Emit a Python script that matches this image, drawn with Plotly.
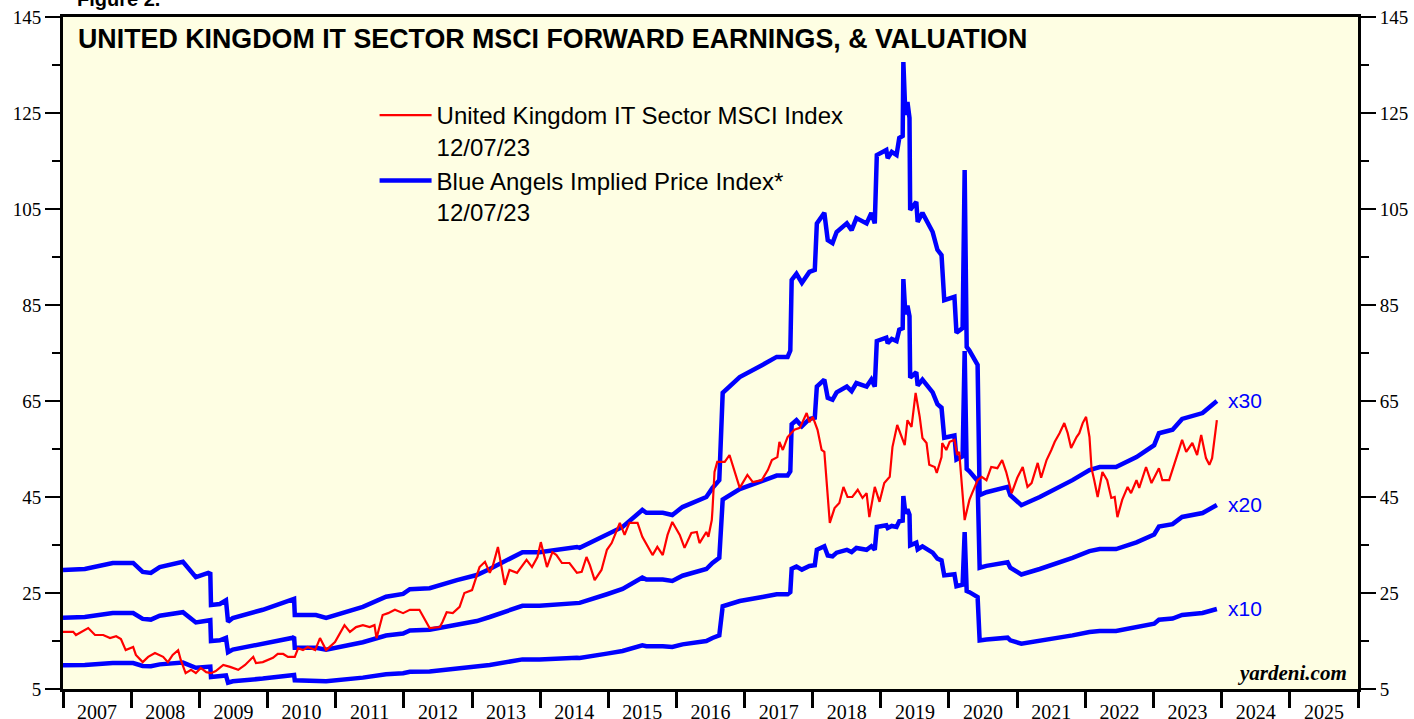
import pandas as pd
import plotly.graph_objects as go

# ---- Data (decimal years) ----
eps_years = [2007.00, 2007.32, 2007.73, 2008.03, 2008.17, 2008.29, 2008.42, 2008.57, 2008.76, 2008.95,
             2009.13, 2009.16, 2009.17, 2009.30, 2009.39, 2009.42, 2009.49, 2009.93, 2010.37, 2010.39,
             2010.40, 2010.71, 2010.86, 2011.40, 2011.74, 2011.99, 2012.09, 2012.38, 2012.78, 2013.07,
             2013.26, 2013.74, 2013.99, 2014.54, 2014.58, 2014.98, 2015.21, 2015.50, 2015.56, 2015.80,
             2015.94, 2016.09, 2016.44, 2016.53, 2016.63, 2016.68, 2016.93, 2017.26, 2017.47, 2017.63,
             2017.67, 2017.69, 2017.76, 2017.84, 2017.95, 2018.03, 2018.06, 2018.17, 2018.22, 2018.29,
             2018.35, 2018.50, 2018.57, 2018.64, 2018.79, 2018.86, 2018.91, 2018.94, 2019.08, 2019.10,
             2019.16, 2019.23, 2019.27, 2019.32, 2019.33, 2019.36, 2019.39, 2019.42, 2019.43, 2019.52,
             2019.54, 2019.61, 2019.71, 2019.76, 2019.83, 2019.89, 2019.93, 2020.08, 2020.11, 2020.20,
             2020.23, 2020.26, 2020.30, 2020.39, 2020.42, 2020.45, 2020.55, 2020.86, 2020.90, 2021.06,
             2021.33, 2021.81, 2022.06, 2022.21, 2022.45, 2022.75, 2023.01, 2023.08, 2023.28, 2023.42,
             2023.72, 2023.93]
# forward earnings (index units)
fwd_earnings = [0.993, 1.000, 1.042, 1.042, 0.980, 0.973, 1.013, 1.027, 1.050, 0.943,
                0.973, 0.967, 0.750, 0.757, 0.783, 0.633, 0.660, 0.717, 0.783, 0.793,
                0.680, 0.680, 0.660, 0.737, 0.807, 0.827, 0.860, 0.867, 0.923, 0.958,
                1.000, 1.117, 1.117, 1.153, 1.147, 1.237, 1.292, 1.410, 1.390, 1.390,
                1.375, 1.430, 1.500, 1.563, 1.617, 2.223, 2.333, 2.417, 2.473, 2.473,
                2.517, 3.007, 3.050, 2.987, 3.063, 3.077, 3.400, 3.473, 3.283, 3.263,
                3.340, 3.400, 3.353, 3.437, 3.400, 3.473, 3.400, 3.875, 3.910, 3.853,
                3.897, 3.875, 3.993, 4.007, 4.520, 4.153, 4.243, 4.133, 3.493, 3.550,
                3.410, 3.473, 3.375, 3.340, 3.217, 3.180, 2.867, 2.890, 2.640, 2.673,
                3.770, 2.542, 2.517, 2.450, 2.417, 1.513, 1.533, 1.570, 1.513, 1.443,
                1.500, 1.617, 1.687, 1.708, 1.708, 1.777, 1.860, 1.943, 1.967, 2.042,
                2.083, 2.167]
multiples = [30, 20, 10]

idx_years = [2007.00, 2007.15, 2007.19, 2007.37, 2007.47, 2007.59, 2007.69, 2007.78, 2007.85, 2007.92,
             2008.03, 2008.07, 2008.17, 2008.25, 2008.35, 2008.47, 2008.54, 2008.61, 2008.69, 2008.73,
             2008.80, 2008.88, 2008.95, 2009.02, 2009.10, 2009.17, 2009.24, 2009.35, 2009.45, 2009.57,
             2009.67, 2009.79, 2009.83, 2009.93, 2010.08, 2010.15, 2010.23, 2010.30, 2010.40, 2010.45,
             2010.52, 2010.59, 2010.70, 2010.77, 2010.86, 2010.99, 2011.13, 2011.21, 2011.30, 2011.40,
             2011.50, 2011.57, 2011.60, 2011.69, 2011.77, 2011.87, 2011.99, 2012.09, 2012.23, 2012.34,
             2012.38, 2012.53, 2012.57, 2012.63, 2012.72, 2012.82, 2012.89, 2013.00, 2013.11, 2013.19,
             2013.26, 2013.30, 2013.38, 2013.48, 2013.55, 2013.66, 2013.80, 2013.88, 2013.96, 2014.01,
             2014.10, 2014.18, 2014.24, 2014.32, 2014.43, 2014.54, 2014.61, 2014.68, 2014.73, 2014.80,
             2014.90, 2014.98, 2015.05, 2015.17, 2015.24, 2015.31, 2015.43, 2015.50, 2015.65, 2015.72,
             2015.80, 2015.87, 2015.94, 2016.05, 2016.12, 2016.22, 2016.30, 2016.34, 2016.44, 2016.47,
             2016.52, 2016.53, 2016.56, 2016.60, 2016.71, 2016.78, 2016.88, 2016.93, 2017.04, 2017.12,
             2017.25, 2017.34, 2017.40, 2017.48, 2017.51, 2017.56, 2017.63, 2017.73, 2017.81, 2017.85,
             2017.91, 2017.95, 2018.00, 2018.07, 2018.13, 2018.17, 2018.25, 2018.32, 2018.39, 2018.45,
             2018.51, 2018.58, 2018.66, 2018.73, 2018.79, 2018.83, 2018.91, 2018.98, 2019.05, 2019.13,
             2019.17, 2019.24, 2019.30, 2019.35, 2019.39, 2019.45, 2019.51, 2019.57, 2019.61, 2019.67,
             2019.71, 2019.79, 2019.82, 2019.89, 2019.90, 2019.96, 2020.01, 2020.08, 2020.12, 2020.15,
             2020.23, 2020.27, 2020.30, 2020.34, 2020.42, 2020.48, 2020.55, 2020.62, 2020.71, 2020.78,
             2020.84, 2020.92, 2021.00, 2021.08, 2021.15, 2021.21, 2021.30, 2021.35, 2021.43, 2021.50,
             2021.55, 2021.62, 2021.69, 2021.74, 2021.79, 2021.87, 2021.91, 2021.96, 2022.01, 2022.06,
             2022.09, 2022.13, 2022.18, 2022.25, 2022.32, 2022.38, 2022.43, 2022.47, 2022.54, 2022.62,
             2022.67, 2022.75, 2022.79, 2022.89, 2022.97, 2023.08, 2023.13, 2023.23, 2023.33, 2023.42,
             2023.48, 2023.57, 2023.64, 2023.70, 2023.77, 2023.82, 2023.86, 2023.93]
idx_values = [16.9, 16.9, 16.25, 17.7, 16.25, 16.25, 15.6, 16.0, 15.4, 13.1,
              13.75, 12.1, 10.6, 11.7, 12.5, 11.7, 10.6, 12.1, 13.1, 11.0,
              8.3, 9.0, 8.3, 9.4, 8.5, 8.3, 8.75, 10.0, 9.6, 9.0,
              10.0, 11.7, 10.4, 10.6, 11.5, 12.3, 12.3, 11.7, 11.7, 13.5,
              13.1, 13.75, 13.1, 15.6, 13.1, 14.8, 18.3, 16.9, 17.9, 18.3,
              17.9, 18.3, 15.6, 20.4, 20.8, 21.5, 20.8, 21.5, 21.5, 18.75,
              17.7, 17.9, 19.0, 21.0, 20.8, 22.1, 25.0, 25.6, 30.4, 31.5,
              29.2, 30.4, 34.6, 26.7, 29.8, 29.2, 31.9, 30.4, 32.5, 35.6,
              30.4, 33.5, 32.9, 31.25, 31.25, 29.2, 29.4, 32.5, 30.8, 27.7,
              29.8, 34.0, 35.4, 39.6, 37.1, 39.6, 39.6, 36.7, 32.9, 34.6,
              32.9, 37.1, 39.8, 37.1, 34.4, 37.5, 37.7, 35.4, 37.7, 36.7,
              40.2, 42.3, 50.2, 52.3, 52.3, 53.75, 49.2, 46.9, 49.6, 48.1,
              48.5, 50.6, 52.7, 53.3, 56.5, 54.8, 57.5, 59.0, 59.4, 60.6,
              62.5, 60.6, 61.7, 59.0, 54.8, 54.4, 39.6, 42.7, 43.75, 47.1,
              45.0, 45.0, 46.5, 44.8, 45.8, 40.8, 47.1, 44.0, 47.9, 49.2,
              55.4, 60.0, 57.5, 55.8, 61.0, 59.6, 66.7, 61.7, 57.3, 56.25,
              51.7, 51.25, 50.0, 53.3, 56.25, 54.8, 56.5, 56.9, 53.75, 54.4,
              40.2, 42.3, 44.4, 45.8, 48.5, 49.2, 48.5, 51.25, 51.0, 52.7,
              50.2, 45.8, 49.0, 51.25, 47.1, 47.9, 52.1, 49.0, 52.7, 54.8,
              56.5, 58.3, 60.4, 58.3, 55.2, 57.5, 58.3, 60.4, 61.7, 57.5,
              51.0, 48.5, 45.0, 50.2, 48.5, 44.8, 45.0, 40.8, 44.4, 47.1,
              45.8, 48.5, 46.9, 51.25, 47.9, 51.0, 48.5, 48.5, 53.1, 56.9,
              54.4, 56.25, 53.75, 57.9, 53.1, 51.7, 53.1, 61.0]

y_ticks = [5, 25, 45, 65, 85, 105, 125, 145]
y_minor_ticks = [15, 35, 55, 75, 95, 115, 135]


def to_date(y):
    yi = int(y)
    return pd.Timestamp(yi, 1, 1) + pd.Timedelta(days=(y - yi) * 365.25)


eps_dates = [to_date(v) for v in eps_years]
idx_dates = [to_date(v) for v in idx_years]

BLUE = "#0000FF"
RED = "#FF0000"

fig = go.Figure()
for i, m in enumerate(multiples):
    fig.add_trace(go.Scatter(
        x=eps_dates, y=[e * m for e in fwd_earnings], mode="lines",
        line=dict(color=BLUE, width=4.5), name="Blue Angels Implied Price Index*<br>12/07/23",
        showlegend=(i == 0), legendrank=2, legendgroup="blue", hoverinfo="skip"))
fig.add_trace(go.Scatter(
    x=idx_dates, y=idx_values, mode="lines", line=dict(color=RED, width=2.2),
    name="United Kingdom IT Sector MSCI Index<br>12/07/23", legendrank=1, legendgroup="red"))

# invisible trace for right axis
fig.add_trace(go.Scatter(x=[eps_dates[0]], y=[None], yaxis="y2", showlegend=False))

for m in multiples:
    fig.add_annotation(x=eps_dates[-1], y=fwd_earnings[-1] * m, text="x%d" % m,
                       xanchor="left", yanchor="middle", xshift=9, showarrow=False,
                       font=dict(family="Arial", size=21, color=BLUE))

fig.add_annotation(xref="paper", yref="paper", x=0.010, y=0.968, xanchor="left", yanchor="middle",
                   text="<b>UNITED KINGDOM IT SECTOR MSCI FORWARD EARNINGS, & VALUATION</b>",
                   showarrow=False, font=dict(family="Arial", size=26.8, color="black"))
fig.add_annotation(xref="paper", yref="paper", x=0.993, y=0.0, xanchor="right", yanchor="bottom",
                   yshift=2, text="<b><i>yardeni.com</i></b>", showarrow=False,
                   font=dict(family="Liberation Serif", size=21, color="black"))
fig.add_annotation(xref="paper", yref="paper", x=0.009, y=1.0, xanchor="left", yanchor="bottom",
                   yshift=5, text="<b>Figure 2.</b>", showarrow=False,
                   font=dict(family="Arial", size=20, color="black"))

axis_font = dict(family="Liberation Serif", size=19, color="black")
yaxis_common = dict(range=[5, 145], tickvals=y_ticks, ticks="outside", ticklen=15, tickwidth=1.5,
                    tickcolor="black", showgrid=False, zeroline=False, showline=True,
                    linecolor="black", linewidth=3, tickfont=axis_font, automargin=False,
                    minor=dict(tickvals=y_minor_ticks, ticks="outside",
                               ticklen=8, tickwidth=1.5, tickcolor="black"))

fig.update_layout(
    template="none",
    width=1414, height=719,
    margin=dict(l=63, r=56, t=17, b=30, autoexpand=False),
    paper_bgcolor="white", plot_bgcolor="#FEFEE3",
    font=dict(family="Arial", color="black"),
    xaxis=dict(type="date", range=[to_date(2007.0), to_date(2026.0)],
               tick0="2007-01-01", dtick="M12", ticklabelmode="period", tickformat="%Y",
               ticks="outside", ticklen=16, tickwidth=3, tickcolor="black",
               showgrid=False, zeroline=False, showline=True, linecolor="black",
               linewidth=3, mirror=True, automargin=False,
               tickfont=dict(family="Liberation Serif", size=20, color="black"),
               ticklabelstandoff=-13),
    yaxis=dict(**yaxis_common, mirror=True),
    yaxis2=dict(**yaxis_common, overlaying="y", side="right", matches="y"),
    legend=dict(x=0.2406, y=0.887, xanchor="left", yanchor="top", bgcolor="rgba(0,0,0,0)",
                font=dict(family="Arial", size=24, color="black"), valign="top",
                traceorder="grouped", tracegroupgap=0, itemwidth=52),
    showlegend=True,
)

fig.write_html("out.html", config={"displayModeBar": False},
               post_script="document.body.style.margin='0px';")
